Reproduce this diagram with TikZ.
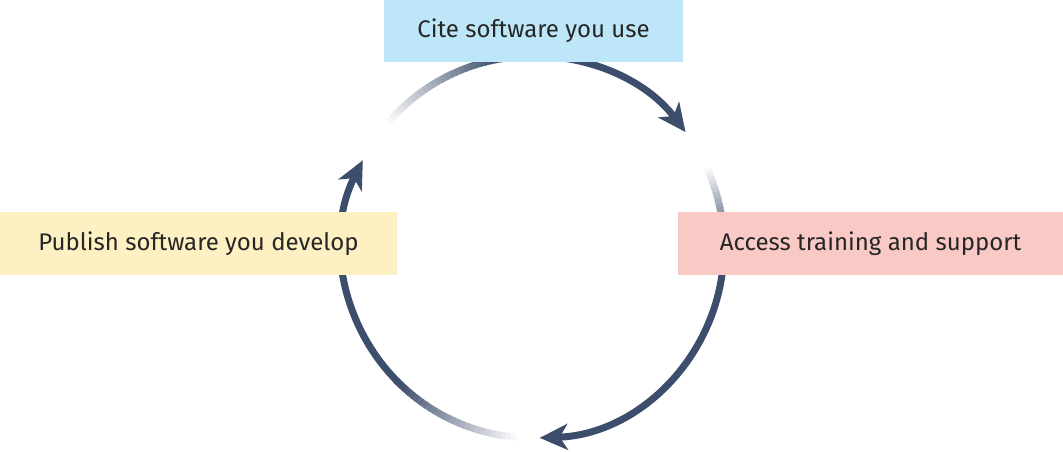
\documentclass[tikz,border=0pt]{standalone}
\usepackage{fontspec}
\setmainfont{Fira Sans}
\usetikzlibrary{arrows.meta}
\definecolor{dk}{HTML}{3D4E6C}
\definecolor{bl}{HTML}{BDE6F8}
\definecolor{pk}{HTML}{F9C9C5}
\definecolor{yl}{HTML}{FDF0C2}
\tikzset{
 seg/.style={line width=7pt, draw=dk},
 tip/.style={-{Stealth[length=28pt,width=26pt,inset=8pt]}},
 lbl/.style={inner sep=0pt, font=\fontsize{24}{28}\selectfont\color{black!85}}
}
\newcommand{\fadearc}[4]{% start, fade end, arc end, steps
 \foreach \i in {1,...,#4}{
  \pgfmathsetmacro\aa{#1+(#2-#1)*(\i-1)/#4}
  \pgfmathsetmacro\bb{#1+(#2-#1)*(\i+0.3)/#4}
  \pgfmathsetmacro\p{100*\i/#4}
  \draw[seg, draw=dk!\p] (\aa:191) arc[start angle=\aa, end angle=\bb, radius=191];
 }
 \draw[seg,tip] (#2:191) arc[start angle=#2, end angle=#3, radius=191];
}
\begin{document}
\begin{tikzpicture}[x=1pt,y=1pt]
\useasboundingbox (0,0) rectangle (1063,451);
\coordinate (c) at (533,204);
\begin{scope}[shift={(c)}]
 \fadearc{139}{100}{37}{25}
 \fadearc{24}{0}{-88}{20}
 \fadearc{-95}{-135}{-207}{25}
\end{scope}
\fill[bl] (384,389) rectangle (683,451);
\fill[pk] (678,176) rectangle (1063,239);
\fill[yl] (0,176) rectangle (397,239);
\node[lbl] (cite) at (533.5,420) {Cite software you use};
\node[lbl] (access) at (870.5,207.5) {Access training and support};
\node[lbl] (pub) at (198.5,207.5) {Publish software you develop};
\end{tikzpicture}
\end{document}
